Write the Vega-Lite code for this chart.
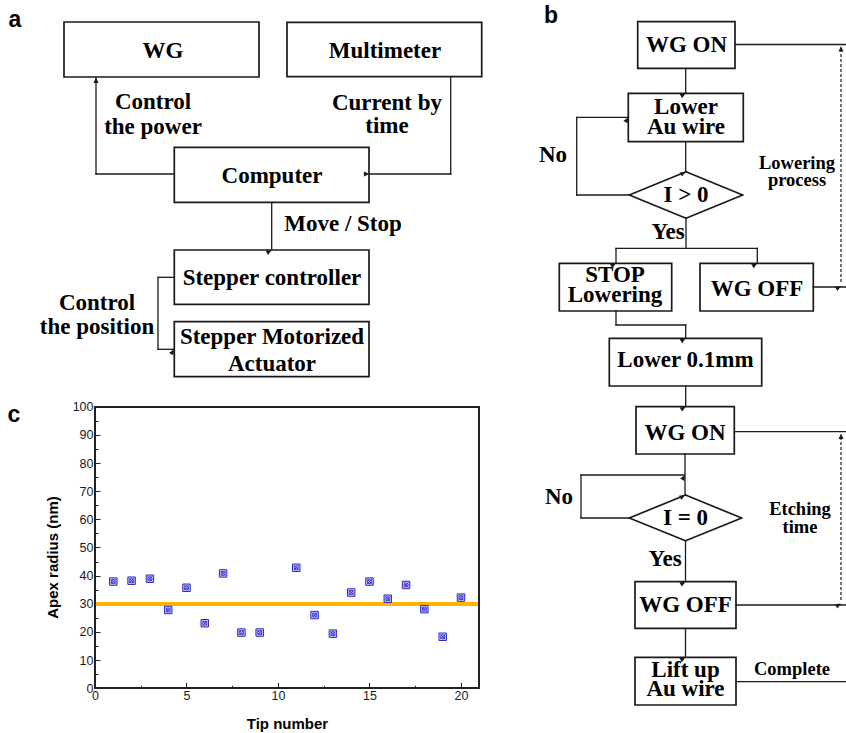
{
"$schema": "https://vega.github.io/schema/vega-lite/v6.json",
"width": 846, "height": 733, "padding": 0,
"autosize": {"type": "none"},
"background": "white",
"config": {"view": {"stroke": null}},
"datasets": {
"boxes": [
{"x":64,"y":22,"x2":259,"y2":77},
{"x":287,"y":22.3,"x2":481.7,"y2":76.7},
{"x":174.3,"y":147.3,"x2":369,"y2":202.3},
{"x":174.3,"y":250,"x2":369,"y2":304.3},
{"x":174.3,"y":321.7,"x2":369,"y2":376.7},
{"x":637.7,"y":21.7,"x2":735,"y2":68.3},
{"x":628.3,"y":93.3,"x2":743.3,"y2":141.7},
{"x":559.3,"y":263.3,"x2":671.7,"y2":311},
{"x":700,"y":263.3,"x2":813.3,"y2":311},
{"x":609.3,"y":338.3,"x2":761.7,"y2":386},
{"x":636,"y":406.7,"x2":734.3,"y2":454},
{"x":635,"y":581.7,"x2":736,"y2":628.3},
{"x":635,"y":657.3,"x2":736,"y2":705}
],
"diamonds": [
{"x":629.3,"y":195,"x2":686,"y2":171.7},
{"x":686,"y":171.7,"x2":742.7,"y2":195},
{"x":742.7,"y":195,"x2":686,"y2":218.3},
{"x":686,"y":218.3,"x2":629.3,"y2":195},
{"x":629.3,"y":518,"x2":685.5,"y2":495},
{"x":685.5,"y":495,"x2":741.7,"y2":518},
{"x":741.7,"y":518,"x2":685.5,"y2":540.7},
{"x":685.5,"y":540.7,"x2":629.3,"y2":518}
],
"links": [
{"x":96,"y":78,"x2":96,"y2":174},
{"x":96,"y":174,"x2":174.3,"y2":174},
{"x":450.7,"y":76.7,"x2":450.7,"y2":174},
{"x":450.7,"y":174,"x2":370,"y2":174},
{"x":271.7,"y":202.3,"x2":271.7,"y2":249},
{"x":174.3,"y":277.3,"x2":158,"y2":277.3},
{"x":158,"y":277.3,"x2":158,"y2":349.3},
{"x":158,"y":349.3,"x2":173.5,"y2":349.3},
{"x":735,"y":44.5,"x2":846,"y2":44.5},
{"x":685.7,"y":68.3,"x2":685.7,"y2":92.5},
{"x":685.7,"y":141.7,"x2":685.7,"y2":171},
{"x":629.3,"y":195,"x2":576.7,"y2":195},
{"x":576.7,"y":195,"x2":576.7,"y2":117.3},
{"x":576.7,"y":117.3,"x2":627.5,"y2":117.3},
{"x":686,"y":218.3,"x2":686,"y2":248.3},
{"x":616,"y":248.3,"x2":757.3,"y2":248.3},
{"x":616,"y":248.3,"x2":616,"y2":262.5},
{"x":757.3,"y":248.3,"x2":757.3,"y2":262.5},
{"x":813.3,"y":287,"x2":846,"y2":287},
{"x":616,"y":311,"x2":616,"y2":325},
{"x":616,"y":325,"x2":685.7,"y2":325},
{"x":685.7,"y":325,"x2":685.7,"y2":337.5},
{"x":685.7,"y":386,"x2":685.7,"y2":406},
{"x":734.3,"y":431.7,"x2":846,"y2":431.7},
{"x":685,"y":454,"x2":685,"y2":494},
{"x":629.3,"y":518,"x2":581,"y2":518},
{"x":581,"y":518,"x2":581,"y2":475},
{"x":581,"y":475,"x2":684,"y2":475},
{"x":685.5,"y":540.7,"x2":685.5,"y2":581},
{"x":736,"y":605,"x2":846,"y2":605},
{"x":685.5,"y":628.3,"x2":685.5,"y2":656.5},
{"x":736,"y":681.7,"x2":846,"y2":681.7}
],
"dashed": [
{"x":841,"y":49,"x2":841,"y2":283},
{"x":841,"y":437,"x2":841,"y2":600}
],
"arrows": [
{"x":96,"y":77.5,"dir":"up"},
{"x":369.5,"y":174,"dir":"left"},
{"x":271.7,"y":250,"dir":"down"},
{"x":174,"y":349.3,"dir":"right"},
{"x":685.7,"y":93.3,"dir":"down"},
{"x":685.7,"y":171.7,"dir":"down"},
{"x":628.3,"y":117.3,"dir":"right"},
{"x":616,"y":263.3,"dir":"down"},
{"x":757.3,"y":263.3,"dir":"down"},
{"x":685.7,"y":338.3,"dir":"down"},
{"x":685.7,"y":406.7,"dir":"down"},
{"x":685,"y":495,"dir":"down"},
{"x":685,"y":475,"dir":"right"},
{"x":685.5,"y":581.7,"dir":"down"},
{"x":685.5,"y":657.3,"dir":"down"},
{"x":841,"y":46,"dir":"up"},
{"x":841,"y":286,"dir":"down"},
{"x":841,"y":433.5,"dir":"up"},
{"x":841,"y":603.5,"dir":"down"}
],
"serif22": [
{"x":163,"y":51,"t":"WG"},
{"x":385,"y":51,"t":"Multimeter"},
{"x":153,"y":102,"t":"Control"},
{"x":153,"y":126.5,"t":"the power"},
{"x":387,"y":103,"t":"Current by"},
{"x":387,"y":126,"t":"time"},
{"x":272,"y":176,"t":"Computer"},
{"x":343,"y":224,"t":"Move / Stop"},
{"x":272,"y":278,"t":"Stepper controller"},
{"x":272,"y":337,"t":"Stepper Motorized"},
{"x":272,"y":364,"t":"Actuator"},
{"x":97,"y":303,"t":"Control"},
{"x":97,"y":327,"t":"the position"},
{"x":686.5,"y":45,"t":"WG ON"},
{"x":686,"y":106.5,"t":"Lower"},
{"x":686,"y":127,"t":"Au wire"},
{"x":686,"y":195,"t":"I > 0"},
{"x":553,"y":155,"t":"No"},
{"x":668,"y":232,"t":"Yes"},
{"x":615,"y":275,"t":"STOP"},
{"x":615,"y":295,"t":"Lowering"},
{"x":757,"y":289,"t":"WG OFF"},
{"x":685.5,"y":360,"t":"Lower 0.1mm"},
{"x":685,"y":433,"t":"WG ON"},
{"x":559,"y":497,"t":"No"},
{"x":685.5,"y":518,"t":"I = 0"},
{"x":665,"y":559,"t":"Yes"},
{"x":685.5,"y":605,"t":"WG OFF"},
{"x":685.5,"y":670,"t":"Lift up"},
{"x":685.5,"y":688.5,"t":"Au wire"}
],
"serif18": [
{"x":797,"y":163,"t":"Lowering"},
{"x":797,"y":180,"t":"process"},
{"x":800,"y":509,"t":"Etching"},
{"x":800,"y":527,"t":"time"},
{"x":792,"y":669,"t":"Complete"}
],
"letters": [
{"x":15,"y":27,"t":"a"},
{"x":551,"y":23.3,"t":"b"},
{"x":14,"y":421.7,"t":"c"}
],
"tips": [
{"tip":1,"r":37.9},{"tip":2,"r":38.2},{"tip":3,"r":38.9},{"tip":4,"r":27.8},
{"tip":5,"r":35.7},{"tip":6,"r":23.1},{"tip":7,"r":40.8},{"tip":8,"r":19.8},
{"tip":9,"r":19.8},{"tip":11,"r":42.8},{"tip":12,"r":26.0},{"tip":13,"r":19.4},
{"tip":14,"r":34.0},{"tip":15,"r":37.9},{"tip":16,"r":31.8},{"tip":17,"r":36.7},
{"tip":18,"r":28.1},{"tip":19,"r":18.3},{"tip":20,"r":32.2}
]
},
"layer": [
{
"encoding": {
"x": {"field":"x","type":"quantitative","scale":{"domain":[0,846],"nice":false,"zero":false},"axis":null},
"y": {"field":"y","type":"quantitative","scale":{"domain":[0,733],"nice":false,"zero":false,"reverse":true},"axis":null}
},
"layer": [
{"data":{"name":"boxes"},"mark":{"type":"rect","fill":"white","fillOpacity":0,"stroke":"#1a1a1a","strokeWidth":1.7},
 "encoding":{"x2":{"field":"x2"},"y2":{"field":"y2"}}},
{"data":{"name":"diamonds"},"mark":{"type":"rule","color":"#1a1a1a","strokeWidth":1.7,"strokeCap":"round"},
 "encoding":{"x2":{"field":"x2"},"y2":{"field":"y2"}}},
{"data":{"name":"links"},"mark":{"type":"rule","color":"#1a1a1a","strokeWidth":1.3,"strokeCap":"square"},
 "encoding":{"x2":{"field":"x2"},"y2":{"field":"y2"}}},
{"data":{"name":"dashed"},"mark":{"type":"rule","color":"#1a1a1a","strokeWidth":1.2,"strokeDash":[3,2]},
 "encoding":{"x2":{"field":"x2"},"y2":{"field":"y2"}}},
{"data":{"name":"arrows"},"mark":{"type":"point","shape":"M0,0L-0.7,1.6L0.7,1.6Z","size":49,"filled":true,"color":"#1a1a1a","opacity":1},
 "encoding":{"angle":{"field":"dir","type":"nominal","scale":{"domain":["up","right","down","left"],"range":[0,90,180,270]},"legend":null}}},
{"data":{"name":"serif22"},"mark":{"type":"text","font":"Liberation Serif","fontWeight":"bold","fontSize":23,"color":"#000","align":"center","baseline":"middle"},
 "encoding":{"text":{"field":"t"}}},
{"data":{"name":"serif18"},"mark":{"type":"text","font":"Liberation Serif","fontWeight":"bold","fontSize":18.5,"color":"#000","align":"center","baseline":"middle"},
 "encoding":{"text":{"field":"t"}}},
{"data":{"name":"letters"},"mark":{"type":"text","font":"Liberation Sans","fontWeight":"bold","fontSize":23,"color":"#000","align":"center","baseline":"alphabetic"},
 "encoding":{"text":{"field":"t"}}}
]
},
{
"resolve": {"axis": {"x":"independent","y":"independent"}},
"layer": [
{"data":{"name":"tips"},"mark":{"type":"rule","color":"#ffb400","strokeWidth":3},
 "encoding":{
  "x":{"datum":0,"type":"quantitative","scale":{"domain":[-5.191,41.04],"nice":false,"zero":false},
   "axis":{"orient":"bottom","offset":-44.7,"domain":false,"grid":false,"labels":false,"title":null,
    "values":[2.5,7.5,12.5,17.5],"tickSize":-3,"tickColor":"#222","tickWidth":1}},
  "x2":{"datum":21},
  "y":{"datum":30,"type":"quantitative","scale":{"domain":[-15.874,244.42],"nice":false,"zero":false},
   "axis":{"orient":"left","offset":-95,"domain":false,"grid":false,"labels":false,"title":null,
    "values":[5,15,25,35,45,55,65,75,85,95],"tickSize":-3,"tickColor":"#222","tickWidth":1}}
 }},
{"data":{"name":"tips"},"mark":{"type":"rect","fill":"white","fillOpacity":0,"stroke":"#222","strokeWidth":1.2},
 "encoding":{
  "x":{"datum":0,"type":"quantitative","scale":{"domain":[-5.191,41.04],"nice":false,"zero":false},"axis":null},
  "x2":{"datum":21},
  "y":{"datum":0,"type":"quantitative","scale":{"domain":[-15.874,244.42],"nice":false,"zero":false},"axis":null},
  "y2":{"datum":100}
 }},
{"data":{"name":"tips"},"mark":{"type":"point","shape":"square","size":56,"filled":true,"fill":"#c6c6f2","stroke":"#2a2ac8","strokeWidth":1,"opacity":1},
 "encoding":{
  "x":{"field":"tip","type":"quantitative","scale":{"domain":[-5.191,41.04],"nice":false,"zero":false},
   "axis":{"orient":"bottom","offset":-44.7,"domain":false,"grid":false,
    "values":[0,5,10,15,20],"tickSize":-6,"tickColor":"#222","tickWidth":1,
    "labelFont":"Liberation Sans","labelFontSize":12.5,"labelColor":"#1a1a1a","labelPadding":7,
    "title":"Tip number","titleFont":"Liberation Sans","titleFontSize":15,"titleFontWeight":"bold","titleColor":"#000",
    "titleX":287,"titleY":40.2,"titleBaseline":"alphabetic"}},
  "y":{"field":"r","type":"quantitative","scale":{"domain":[-15.874,244.42],"nice":false,"zero":false},
   "axis":{"orient":"left","offset":-95,"domain":false,"grid":false,
    "values":[0,10,20,30,40,50,60,70,80,90,100],"tickSize":-5,"tickColor":"#222","tickWidth":1,
    "labelFont":"Liberation Sans","labelFontSize":12.5,"labelColor":"#1a1a1a","labelPadding":7,
    "title":"Apex radius (nm)","titleFont":"Liberation Sans","titleFontSize":15,"titleFontWeight":"bold","titleColor":"#000",
    "titleX":-37.7,"titleY":557,"titleBaseline":"alphabetic","titleAngle":270}}
 }},
{"data":{"name":"tips"},"mark":{"type":"point","shape":"circle","size":18,"filled":false,"stroke":"#2a2ac8","strokeWidth":0.9,"opacity":1},
 "encoding":{
  "x":{"field":"tip","type":"quantitative","scale":{"domain":[-5.191,41.04],"nice":false,"zero":false},"axis":null},
  "y":{"field":"r","type":"quantitative","scale":{"domain":[-15.874,244.42],"nice":false,"zero":false},"axis":null}
 }},
{"data":{"name":"tips"},"mark":{"type":"point","shape":"M-0.62,-0.62L0.62,0.62M0.62,-0.62L-0.62,0.62","size":56,"filled":false,"stroke":"#2a2ac8","strokeWidth":0.9,"opacity":1},
 "encoding":{
  "x":{"field":"tip","type":"quantitative","scale":{"domain":[-5.191,41.04],"nice":false,"zero":false},"axis":null},
  "y":{"field":"r","type":"quantitative","scale":{"domain":[-15.874,244.42],"nice":false,"zero":false},"axis":null}
 }}
]
}
],
"resolve": {"scale": {"x":"independent","y":"independent","angle":"independent"}}
}
